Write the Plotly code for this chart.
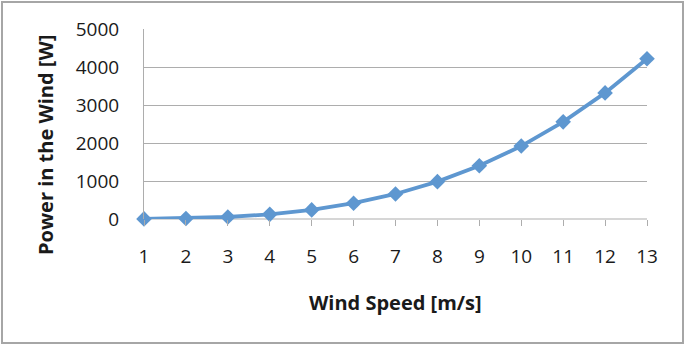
import plotly.graph_objects as go

wind_speed = [1, 2, 3, 4, 5, 6, 7, 8, 9, 10, 11, 12, 13]
power = [2, 15, 52, 123, 240, 415, 659, 983, 1400, 1920, 2556, 3318, 4219]
y_ticks = [0, 1000, 2000, 3000, 4000, 5000]

W, H = 685, 345
L, R, T, B = 144, 38, 29, 126
pw, ph = W - L - R, H - T - B

def px_x(x):
    return (x - L) / pw

def px_y(y):
    return (H - B - y) / ph

font = "Open Sans, Liberation Sans, sans-serif"
blue = "#5E97D0"
grid = "#ADADAD"
text_color = "#1A1A1A"

fig = go.Figure()
fig.add_trace(go.Scatter(
    x=wind_speed, y=power, mode="lines+markers",
    line=dict(color=blue, width=3.8),
    marker=dict(symbol="diamond", size=12, color=blue),
    cliponaxis=False, showlegend=False,
))

fig.update_layout(
    width=W, height=H,
    margin=dict(l=L, r=R, t=T, b=B),
    paper_bgcolor="white", plot_bgcolor="white",
    font=dict(family=font, size=19, color=text_color),
    xaxis=dict(
        range=[1, 13], tickvals=wind_speed, ticktext=[str(v) for v in wind_speed],
        showgrid=False, zeroline=False, showline=False,
        ticks="outside", ticklen=6, tickcolor=grid, tickwidth=1,
        ticklabelstandoff=14, tickfont=dict(size=19),
    ),
    yaxis=dict(
        range=[0, 5000], tickvals=y_ticks, ticktext=[str(v) for v in y_ticks],
        showgrid=True, gridcolor=grid, gridwidth=1,
        zeroline=False, showline=True, linecolor=grid, linewidth=1,
        ticks="", ticklabelstandoff=20, tickfont=dict(size=19),
    ),
    shapes=[
        dict(type="rect", xref="paper", yref="paper",
             x0=px_x(2), x1=px_x(683), y0=px_y(343), y1=px_y(2),
             line=dict(color="#A6A6A6", width=2), fillcolor="rgba(0,0,0,0)", layer="below"),
        dict(type="line", xref="paper", yref="paper",
             x0=0, x1=1, y0=0, y1=0, line=dict(color=grid, width=1), layer="below"),
    ],
    annotations=[
        dict(text="<b>Power in the Wind [W]</b>", xref="paper", yref="paper",
             x=px_x(45), y=px_y(145), textangle=-90, showarrow=False,
             xanchor="center", yanchor="middle", font=dict(size=20, family=font, color=text_color)),
        dict(text="<b>Wind Speed [m/s]</b>", xref="paper", yref="paper",
             x=px_x(395), y=px_y(302), showarrow=False,
             xanchor="center", yanchor="middle", font=dict(size=20, family=font, color=text_color)),
    ],
)

fig.write_html("out.html", config={"displayModeBar": False},
               post_script="document.body.style.margin='0';document.body.style.padding='0';")
